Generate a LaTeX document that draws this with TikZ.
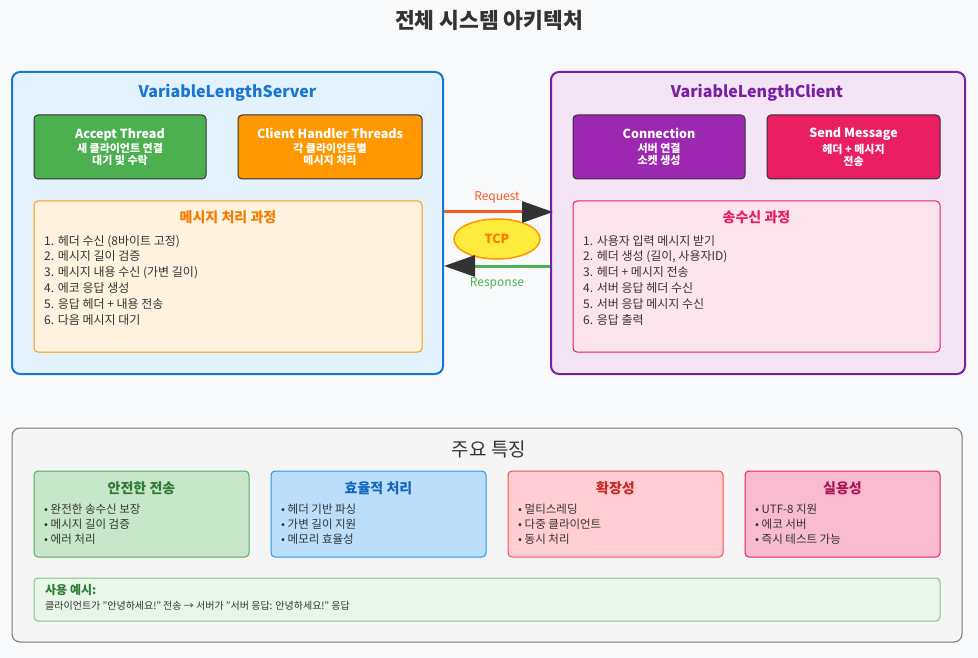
\documentclass[tikz,border=0pt]{standalone}
\usepackage{fontspec}
\setmainfont{Noto Sans CJK KR}
\usetikzlibrary{arrows.meta,shapes.geometric}
\newcommand{\pxfont}[2]{\fontsize{#1}{#2}\selectfont}
\definecolor{pagebg}{HTML}{F8F9FA}
\definecolor{inkgray}{HTML}{333333}
\definecolor{srvblue}{HTML}{1976D2}
\definecolor{srvbg}{HTML}{E3F2FD}
\definecolor{clipurple}{HTML}{7B1FA2}
\definecolor{clibg}{HTML}{F3E5F5}
\definecolor{accgreen}{HTML}{4CAF50}
\definecolor{hdlorange}{HTML}{FF9800}
\definecolor{conpurple}{HTML}{9C27B0}
\definecolor{sndpink}{HTML}{E91E63}
\definecolor{procbg}{HTML}{FFF3E0}
\definecolor{proctitle}{HTML}{F57C00}
\definecolor{xferbg}{HTML}{FCE4EC}
\definecolor{reqred}{HTML}{FF5722}
\definecolor{tcpyellow}{HTML}{FFEB3B}
\definecolor{feabg}{HTML}{F5F5F5}
\definecolor{feagray}{HTML}{757575}
\definecolor{safebg}{HTML}{C8E6C9}
\definecolor{safeink}{HTML}{2E7D32}
\definecolor{effbg}{HTML}{BBDEFB}
\definecolor{effline}{HTML}{2196F3}
\definecolor{effink}{HTML}{1565C0}
\definecolor{scalebg}{HTML}{FFCDD2}
\definecolor{scaleline}{HTML}{EF5350}
\definecolor{scaleink}{HTML}{C62828}
\definecolor{usebg}{HTML}{F8BBD0}
\definecolor{useink}{HTML}{AD1457}
\definecolor{demobg}{HTML}{E8F5E9}
\definecolor{demoline}{HTML}{81C784}

\begin{document}
\begin{tikzpicture}[
  x=1pt, y=-1pt,
  panel/.style={rectangle, draw, line width=2pt, rounded corners=8pt, minimum width=431pt, minimum height=302pt, inner sep=0pt},
  paneltitle/.style={font=\pxfont{16}{18}\bfseries},
  threadblock/.style={rectangle, draw=inkgray, line width=1pt, rounded corners=4pt, minimum height=64pt, align=center, text=white, font=\pxfont{11}{12}\bfseries, inner sep=0pt},
  procblock/.style={rectangle, draw, line width=1pt, rounded corners=4pt, minimum height=151pt, inner sep=0pt},
  proctext/.style={anchor=north west, align=left, inner sep=0pt, text=inkgray, font=\pxfont{12}{15.8}},
  blocktitle/.style={font=\pxfont{14}{16}\bfseries},
  card/.style={rectangle, draw, line width=1pt, rounded corners=4pt, minimum width=215pt, minimum height=86pt, inner sep=0pt},
  cardtext/.style={anchor=north west, align=left, inner sep=0pt, text=inkgray, font=\pxfont{11.5}{15}},
  arrowtip/.style={-{Triangle[length=31pt, width=21pt, color=inkgray]}, line width=3pt},
  linklabel/.style={font=\pxfont{12}{14}},
]
\useasboundingbox (0,0) rectangle (978,658);
\fill[pagebg] (0,0) rectangle (978,658);

\node[font=\pxfont{21.5}{24}\bfseries, text=inkgray] (ttl) at (489,20) {전체 시스템 아키텍처};

% server side
\node[panel, draw=srvblue, fill=srvbg] (srv) at (227.5,223) {};
\node[paneltitle, text=srvblue] (srv-t) at (227.5,93) {VariableLengthServer};
\node[threadblock, fill=accgreen, minimum width=172pt] (srv-acc) at (120,147) {{\pxfont{12.5}{14}Accept Thread}\\[2pt]새 클라이언트 연결\\대기 및 수락};
\node[threadblock, fill=hdlorange, minimum width=184pt] (srv-hdl) at (330,147) {{\pxfont{12.5}{14}Client Handler Threads}\\[2pt]각 클라이언트별\\메시지 처리};
\node[procblock, draw=hdlorange, fill=procbg, minimum width=388pt] (srv-proc) at (228,276.5) {};
\node[blocktitle, text=proctitle] (srv-proc-t) at (228,217) {메시지 처리 과정};
\node[proctext] (srv-proc-l) at (44,235) {1. 헤더 수신 (8바이트 고정)\\2. 메시지 길이 검증\\3. 메시지 내용 수신 (가변 길이)\\4. 에코 응답 생성\\5. 응답 헤더 + 내용 전송\\6. 다음 메시지 대기};

% client side
\node[panel, draw=clipurple, fill=clibg, minimum width=414pt] (cli) at (758,223) {};
\node[paneltitle, text=clipurple] (cli-t) at (757,93) {VariableLengthClient};
\node[threadblock, fill=conpurple, minimum width=172pt] (cli-con) at (659,147) {{\pxfont{12.5}{14}Connection}\\[2pt]서버 연결\\소켓 생성};
\node[threadblock, fill=sndpink, minimum width=173pt] (cli-snd) at (853.5,147) {{\pxfont{12.5}{14}Send Message}\\[2pt]헤더 + 메시지\\전송};
\node[procblock, draw=sndpink, fill=xferbg, minimum width=367pt] (cli-proc) at (756.5,276.5) {};
\node[blocktitle, text=sndpink] (cli-proc-t) at (756.5,217) {송수신 과정};
\node[proctext] (cli-proc-l) at (583,235) {1. 사용자 입력 메시지 받기\\2. 헤더 생성 (길이, 사용자ID)\\3. 헤더 + 메시지 전송\\4. 서버 응답 헤더 수신\\5. 서버 응답 메시지 수신\\6. 응답 출력};

% link
\node[ellipse, draw=hdlorange, line width=1.5pt, fill=tcpyellow, minimum width=86pt, minimum height=40pt, text=proctitle, font=\pxfont{12.5}{14}\bfseries] (tcp) at (497,239) {TCP};
\draw[arrowtip, reqred] ([yshift=11pt]srv.east) -- ([yshift=11pt, xshift=3pt]cli.west);
\draw[arrowtip, accgreen] ([yshift=-43pt]cli.east -| cli.west) -- ([yshift=-43pt]srv.east);
\node[linklabel, text=reqred] (req-l) at (497,197) {Request};
\node[linklabel, text=accgreen] (resp-l) at (497,283) {Response};

% features
\node[rectangle, draw=feagray, line width=1pt, fill=feabg, rounded corners=8pt, minimum width=950pt, minimum height=214pt, inner sep=0pt] (fea) at (487,535) {};
\node[font=\pxfont{19}{21}, text=inkgray] (fea-t) at (489,449) {주요 특징};

\node[card, draw=accgreen, fill=safebg] (fea-safe) at (141.5,514) {};
\node[blocktitle, text=safeink] (fea-safe-t) at (141.5,488) {안전한 전송};
\node[cardtext] (fea-safe-l) at (44,503.5) {• 완전한 송수신 보장\\• 메시지 길이 검증\\• 에러 처리};

\node[card, draw=effline, fill=effbg] (fea-eff) at (378.5,514) {};
\node[blocktitle, text=effink] (fea-eff-t) at (378.5,488) {효율적 처리};
\node[cardtext] (fea-eff-l) at (281,503.5) {• 헤더 기반 파싱\\• 가변 길이 지원\\• 메모리 효율성};

\node[card, draw=scaleline, fill=scalebg] (fea-scale) at (615.5,514) {};
\node[blocktitle, text=scaleink] (fea-scale-t) at (615.5,488) {확장성};
\node[cardtext] (fea-scale-l) at (518,503.5) {• 멀티스레딩\\• 다중 클라이언트\\• 동시 처리};

\node[card, draw=sndpink, fill=usebg, minimum width=195pt] (fea-use) at (842.5,514) {};
\node[blocktitle, text=useink] (fea-use-t) at (842.5,488) {실용성};
\node[cardtext] (fea-use-l) at (755,503.5) {• UTF-8 지원\\• 에코 서버\\• 즉시 테스트 가능};

\node[rectangle, draw=demoline, line width=1pt, fill=demobg, rounded corners=4pt, minimum width=906pt, minimum height=43pt, inner sep=0pt] (demo) at (487,599.5) {};
\node[anchor=west, inner sep=0pt, text=safeink, font=\pxfont{12}{14}\bfseries] (demo-t) at (45,590) {사용 예시:};
\node[anchor=west, inner sep=0pt, text=inkgray, font=\pxfont{10}{12}] (demo-l) at (45,606) {클라이언트가 "안녕하세요!" 전송 → 서버가 "서버 응답: 안녕하세요!" 응답};

\end{tikzpicture}
\end{document}
